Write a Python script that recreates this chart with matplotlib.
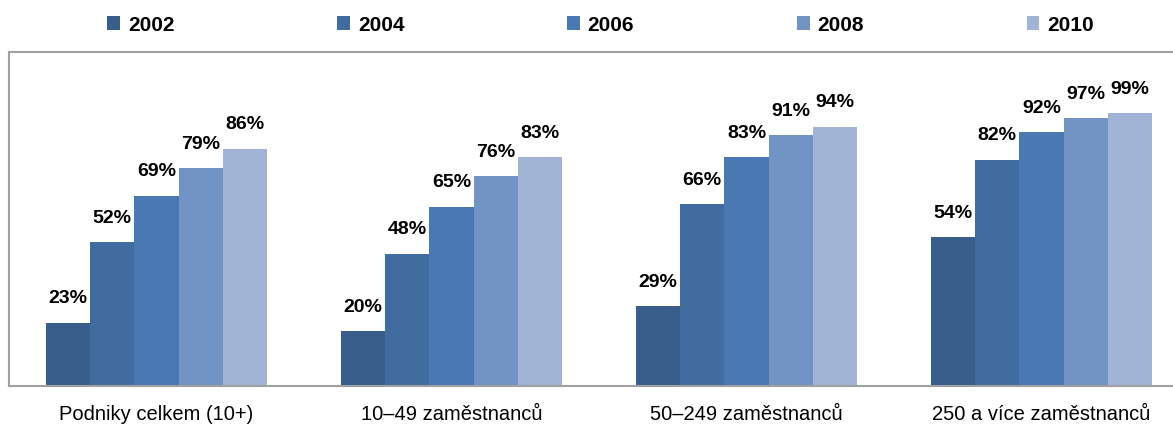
import numpy as np
import matplotlib.pyplot as plt

categories = ["Podniky celkem (10+)", "10–49 zaměstnanců", "50–249 zaměstnanců", "250 a více zaměstnanců"]
years = ["2002", "2004", "2006", "2008", "2010"]
values = {
    "2002": [23, 20, 29, 54],
    "2004": [52, 48, 66, 82],
    "2006": [69, 65, 83, 92],
    "2008": [79, 76, 91, 97],
    "2010": [86, 83, 94, 99],
}
colors = ["#3a5e8c", "#416c9f", "#4a78b3", "#7294c4", "#a2b4d5"]

plt.rcParams["font.family"] = ["Liberation Sans", "DejaVu Sans"]

fig = plt.figure(figsize=(11.73, 4.25), dpi=100)
ax = fig.add_axes([9 / 1173, 39 / 425, 1180 / 1173, 334 / 425])

x = np.arange(len(categories))
width = 0.15
for i, yr in enumerate(years):
    pos = x + (i - 2) * width
    bars = ax.bar(pos, values[yr], width, color=colors[i], label=yr, zorder=2)
    for b, v in zip(bars, values[yr]):
        ax.text(b.get_x() + b.get_width() / 2, v + 5.5, f"{v}%", ha="center", va="bottom",
                fontsize=14, fontweight="bold")

ax.set_xlim(-0.5, 3.5)
ax.set_ylim(0, 121)
ax.set_yticks([])
ax.set_xticks(x)
ax.set_xticklabels(categories, fontsize=14.5)
ax.tick_params(axis="x", length=0, pad=14)
for s in ax.spines.values():
    s.set_color("#a0a0a0")
    s.set_linewidth(1.5)

fig.legend(loc="center", bbox_to_anchor=(0.512, 0.941), ncol=5, frameon=False,
           prop={"weight": "bold", "size": 15}, handlelength=0.62, handleheight=0.62,
           handletextpad=0.38, columnspacing=7.8)

fig.savefig("out.png", dpi=100)
